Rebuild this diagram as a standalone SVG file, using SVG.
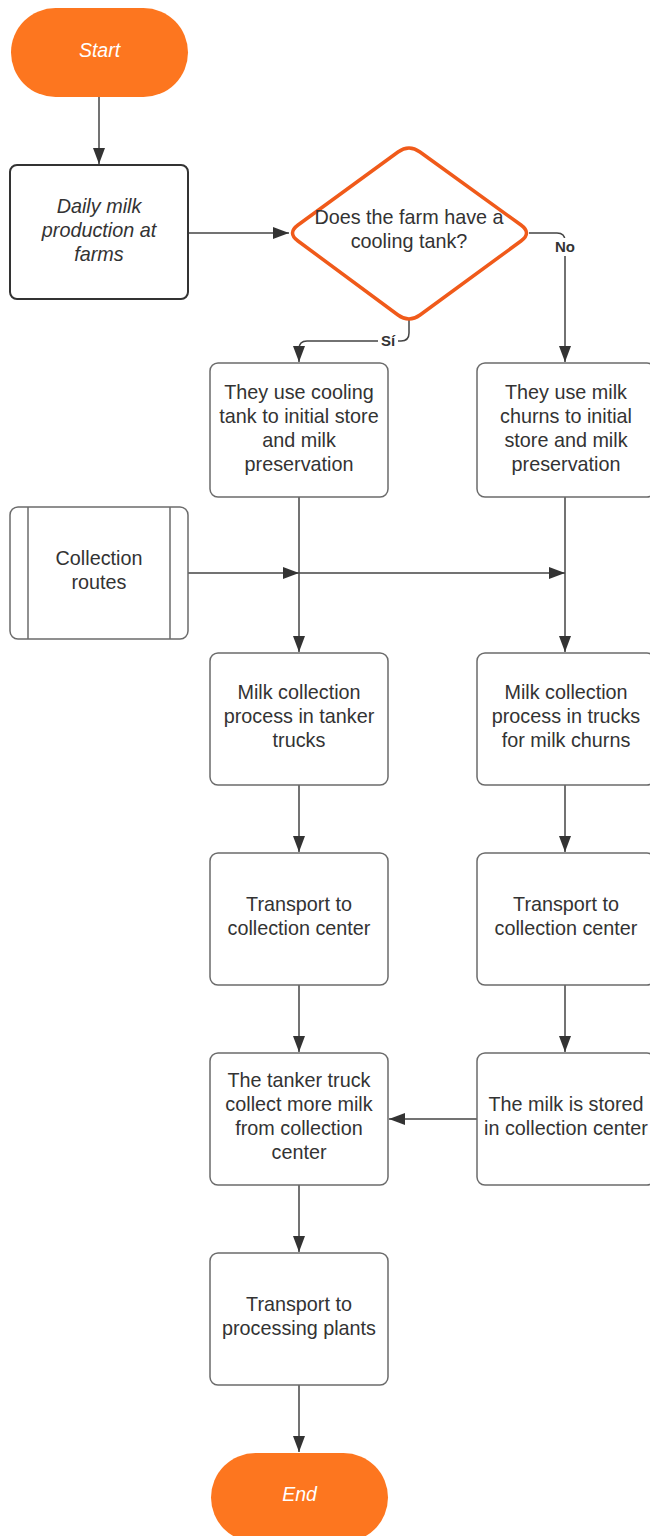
<svg xmlns="http://www.w3.org/2000/svg" width="650" height="1536" viewBox="0 0 650 1536">
<style>
.box{fill:#fff;stroke:#6b6b6b;stroke-width:1.5}
.t{font-family:"Liberation Sans",Arial,sans-serif;font-size:19.8px;fill:#333;text-anchor:middle}
.term{fill:#fd761f}
.tw{font-family:"Liberation Sans",Arial,sans-serif;font-size:19.5px;fill:#fff;font-style:italic;text-anchor:middle}
.c{fill:none;stroke:#444;stroke-width:1.5}
.lbl{font-family:"Liberation Sans",Arial,sans-serif;font-size:15px;font-weight:bold;fill:#333;text-anchor:middle}
</style>
<defs>
<marker id="ah" viewBox="0 0 16 12" refX="16" refY="6" markerWidth="16" markerHeight="12" markerUnits="userSpaceOnUse" orient="auto">
<path d="M0,0 L16,6 L0,12 z" fill="#333"/>
</marker>
</defs>
<rect width="650" height="1536" fill="#fff"/>
<g id="connectors">
<path class="c" d="M99,97 V164" marker-end="url(#ah)"/>
<path class="c" d="M188,233 H289" marker-end="url(#ah)"/>
<path class="c" d="M529,233 H557 Q565,233 565,241 V362" marker-end="url(#ah)"/>
<path class="c" d="M409,320 V333 Q409,341 401,341 H307 Q299,341 299,349 V362" marker-end="url(#ah)"/>
<path class="c" d="M188,573 H299" marker-end="url(#ah)"/>
<path class="c" d="M299,573 H565" marker-end="url(#ah)"/>
<path class="c" d="M299,497 V652" marker-end="url(#ah)"/>
<path class="c" d="M565,497 V652" marker-end="url(#ah)"/>
<path class="c" d="M299,785 V852" marker-end="url(#ah)"/>
<path class="c" d="M565,785 V852" marker-end="url(#ah)"/>
<path class="c" d="M299,985 V1052" marker-end="url(#ah)"/>
<path class="c" d="M565,985 V1052" marker-end="url(#ah)"/>
<path class="c" d="M477,1119 H389" marker-end="url(#ah)"/>
<path class="c" d="M299,1185 V1252" marker-end="url(#ah)"/>
<path class="c" d="M299,1385 V1452" marker-end="url(#ah)"/>
<rect x="552" y="238" width="26" height="18" fill="#fff"/>
<text class="lbl" x="565" y="252">No</text>
<rect x="378" y="333" width="20" height="16" fill="#fff"/>
<text class="lbl" x="388" y="346">Sí</text>
</g>
<g id="start">
<rect class="term" x="11" y="8" width="177" height="89" rx="44.5"/>
<text class="tw" x="99.5" y="57">Start</text>
</g>
<g id="daily">
<rect x="10" y="165" width="178" height="134" rx="7" fill="#fff" stroke="#333" stroke-width="2"/>
<text class="t" font-style="italic" x="99" y="213">Daily milk</text>
<text class="t" font-style="italic" x="99" y="237">production at</text>
<text class="t" font-style="italic" x="99" y="261">farms</text>
</g>
<g id="decision">
<path d="M398,152 Q409,144 420,152 L521,225 Q532,233 521,241 L420,315 Q409,323 398,315 L298,241 Q287,233 298,225 Z" fill="#fff" stroke="#f05a1a" stroke-width="3.5" stroke-linejoin="round"/>
<text class="t" x="409" y="224">Does the farm have a</text>
<text class="t" x="409" y="248">cooling tank?</text>
</g>
<g id="cooling">
<rect class="box" x="210" y="363" width="178" height="134" rx="8"/>
<text class="t" x="299" y="399">They use cooling</text>
<text class="t" x="299" y="423">tank to initial store</text>
<text class="t" x="299" y="447">and milk</text>
<text class="t" x="299" y="471">preservation</text>
</g>
<g id="churns">
<rect class="box" x="477" y="363" width="178" height="134" rx="8"/>
<text class="t" x="566" y="399">They use milk</text>
<text class="t" x="566" y="423">churns to initial</text>
<text class="t" x="566" y="447">store and milk</text>
<text class="t" x="566" y="471">preservation</text>
</g>
<g id="routes">
<rect class="box" x="10" y="507" width="178" height="132" rx="8"/>
<line x1="28" y1="507" x2="28" y2="639" stroke="#6b6b6b" stroke-width="1.5"/>
<line x1="170" y1="507" x2="170" y2="639" stroke="#6b6b6b" stroke-width="1.5"/>
<text class="t" x="99" y="565">Collection</text>
<text class="t" x="99" y="589">routes</text>
</g>
<g id="tanker">
<rect class="box" x="210" y="653" width="178" height="132" rx="8"/>
<text class="t" x="299" y="699">Milk collection</text>
<text class="t" x="299" y="723">process in tanker</text>
<text class="t" x="299" y="747">trucks</text>
</g>
<g id="trucks">
<rect class="box" x="477" y="653" width="178" height="132" rx="8"/>
<text class="t" x="566" y="699">Milk collection</text>
<text class="t" x="566" y="723">process in trucks</text>
<text class="t" x="566" y="747">for milk churns</text>
</g>
<g id="transport1">
<rect class="box" x="210" y="853" width="178" height="132" rx="8"/>
<text class="t" x="299" y="911">Transport to</text>
<text class="t" x="299" y="935">collection center</text>
</g>
<g id="transport2">
<rect class="box" x="477" y="853" width="178" height="132" rx="8"/>
<text class="t" x="566" y="911">Transport to</text>
<text class="t" x="566" y="935">collection center</text>
</g>
<g id="collectmore">
<rect class="box" x="210" y="1053" width="178" height="132" rx="8"/>
<text class="t" x="299" y="1087">The tanker truck</text>
<text class="t" x="299" y="1111">collect more milk</text>
<text class="t" x="299" y="1135">from collection</text>
<text class="t" x="299" y="1159">center</text>
</g>
<g id="stored">
<rect class="box" x="477" y="1053" width="178" height="132" rx="8"/>
<text class="t" x="566" y="1111">The milk is stored</text>
<text class="t" x="566" y="1135">in collection center</text>
</g>
<g id="processing">
<rect class="box" x="210" y="1253" width="178" height="132" rx="8"/>
<text class="t" x="299" y="1311">Transport to</text>
<text class="t" x="299" y="1335">processing plants</text>
</g>
<g id="end">
<rect class="term" x="211" y="1453" width="177" height="89" rx="44.5"/>
<text class="tw" x="299.5" y="1501">End</text>
</g>
</svg>
